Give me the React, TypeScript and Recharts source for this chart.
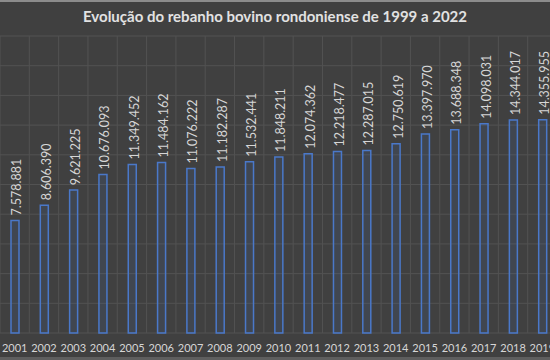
import { Bar, BarChart, CartesianGrid, LabelList, XAxis, YAxis } from "recharts";

const years = [
  "2001", "2002", "2003", "2004", "2005", "2006", "2007", "2008", "2009", "2010",
  "2011", "2012", "2013", "2014", "2015", "2016", "2017", "2018", "2019",
];

const herd = [
  7578881, 8606390, 9621225, 10676093, 11349452, 11484162, 11076222, 11182287,
  11532441, 11848211, 12074362, 12218477, 12287015, 12750619, 13397970, 13688348,
  14098031, 14344017, 14355955,
];

const yTicks = [0, 2000000, 4000000, 6000000, 8000000, 10000000, 12000000, 14000000, 16000000, 18000000, 20000000];

const data = years.map((year, i) => ({ year, value: herd[i] }));

const fmt = (v: number) => String(v).replace(/\B(?=(\d{3})+(?!\d))/g, ".");

function ValueLabel(props: any) {
  const { x, y, width, value } = props;
  const cx = Number(x) + Number(width) / 2 + 2;
  const cy = Number(y) - 5;
  return (
    <text
      x={cx}
      y={cy}
      transform={`rotate(-90, ${cx}, ${cy})`}
      textAnchor="start"
      dominantBaseline="central"
      fill="#d6d6d6"
      fontSize={12.5}
      fontFamily="Lato, 'Open Sans', sans-serif"
    >
      {fmt(value)}
    </text>
  );
}

export default function App() {
  return (
    <div
      style={{
        position: "fixed",
        left: 0,
        top: 0,
        width: 550,
        height: 360,
        overflow: "hidden",
        background: "#404040",
      }}
    >
      <div style={{ position: "absolute", left: 0, top: 0, width: 550, height: 2, background: "#8c8c8c" }} />
      <div style={{ position: "absolute", left: 0, top: 357, width: 550, height: 3, background: "#5e5e5e" }} />
      <div
        style={{
          position: "absolute",
          left: 0,
          top: 7,
          width: 550,
          textAlign: "center",
          color: "#e2e2e2",
          fontFamily: "Lato, 'Open Sans', sans-serif",
          fontWeight: 700,
          fontSize: 15,
        }}
      >
        Evolução do rebanho bovino rondoniense de 1999 a 2022
      </div>
      <div style={{ position: "absolute", left: 0, top: 0 }}>
        <BarChart width={557} height={360} data={data} margin={{ top: 36, right: 0, bottom: 0, left: 0 }}>
          <CartesianGrid
            stroke="#525252"
            verticalCoordinatesGenerator={({ offset }: any) =>
              Array.from({ length: years.length + 1 }, (_, i) => offset.left + (i * offset.width) / years.length)
            }
          />
          <XAxis
            dataKey="year"
            height={27}
            axisLine={false}
            tickLine={false}
            tickMargin={5}
            interval={0}
            tick={{ fill: "#d6d6d6", fontSize: 11, fontFamily: "Lato, 'Open Sans', sans-serif" }}
          />
          <YAxis hide domain={[0, 20000000]} ticks={yTicks} />
          <Bar
            dataKey="value"
            barSize={8}
            fill="rgba(68,114,196,0.12)"
            stroke="#4a78c9"
            strokeWidth={1.5}
            isAnimationActive={false}
          >
            <LabelList dataKey="value" content={<ValueLabel />} />
          </Bar>
        </BarChart>
      </div>
    </div>
  );
}
